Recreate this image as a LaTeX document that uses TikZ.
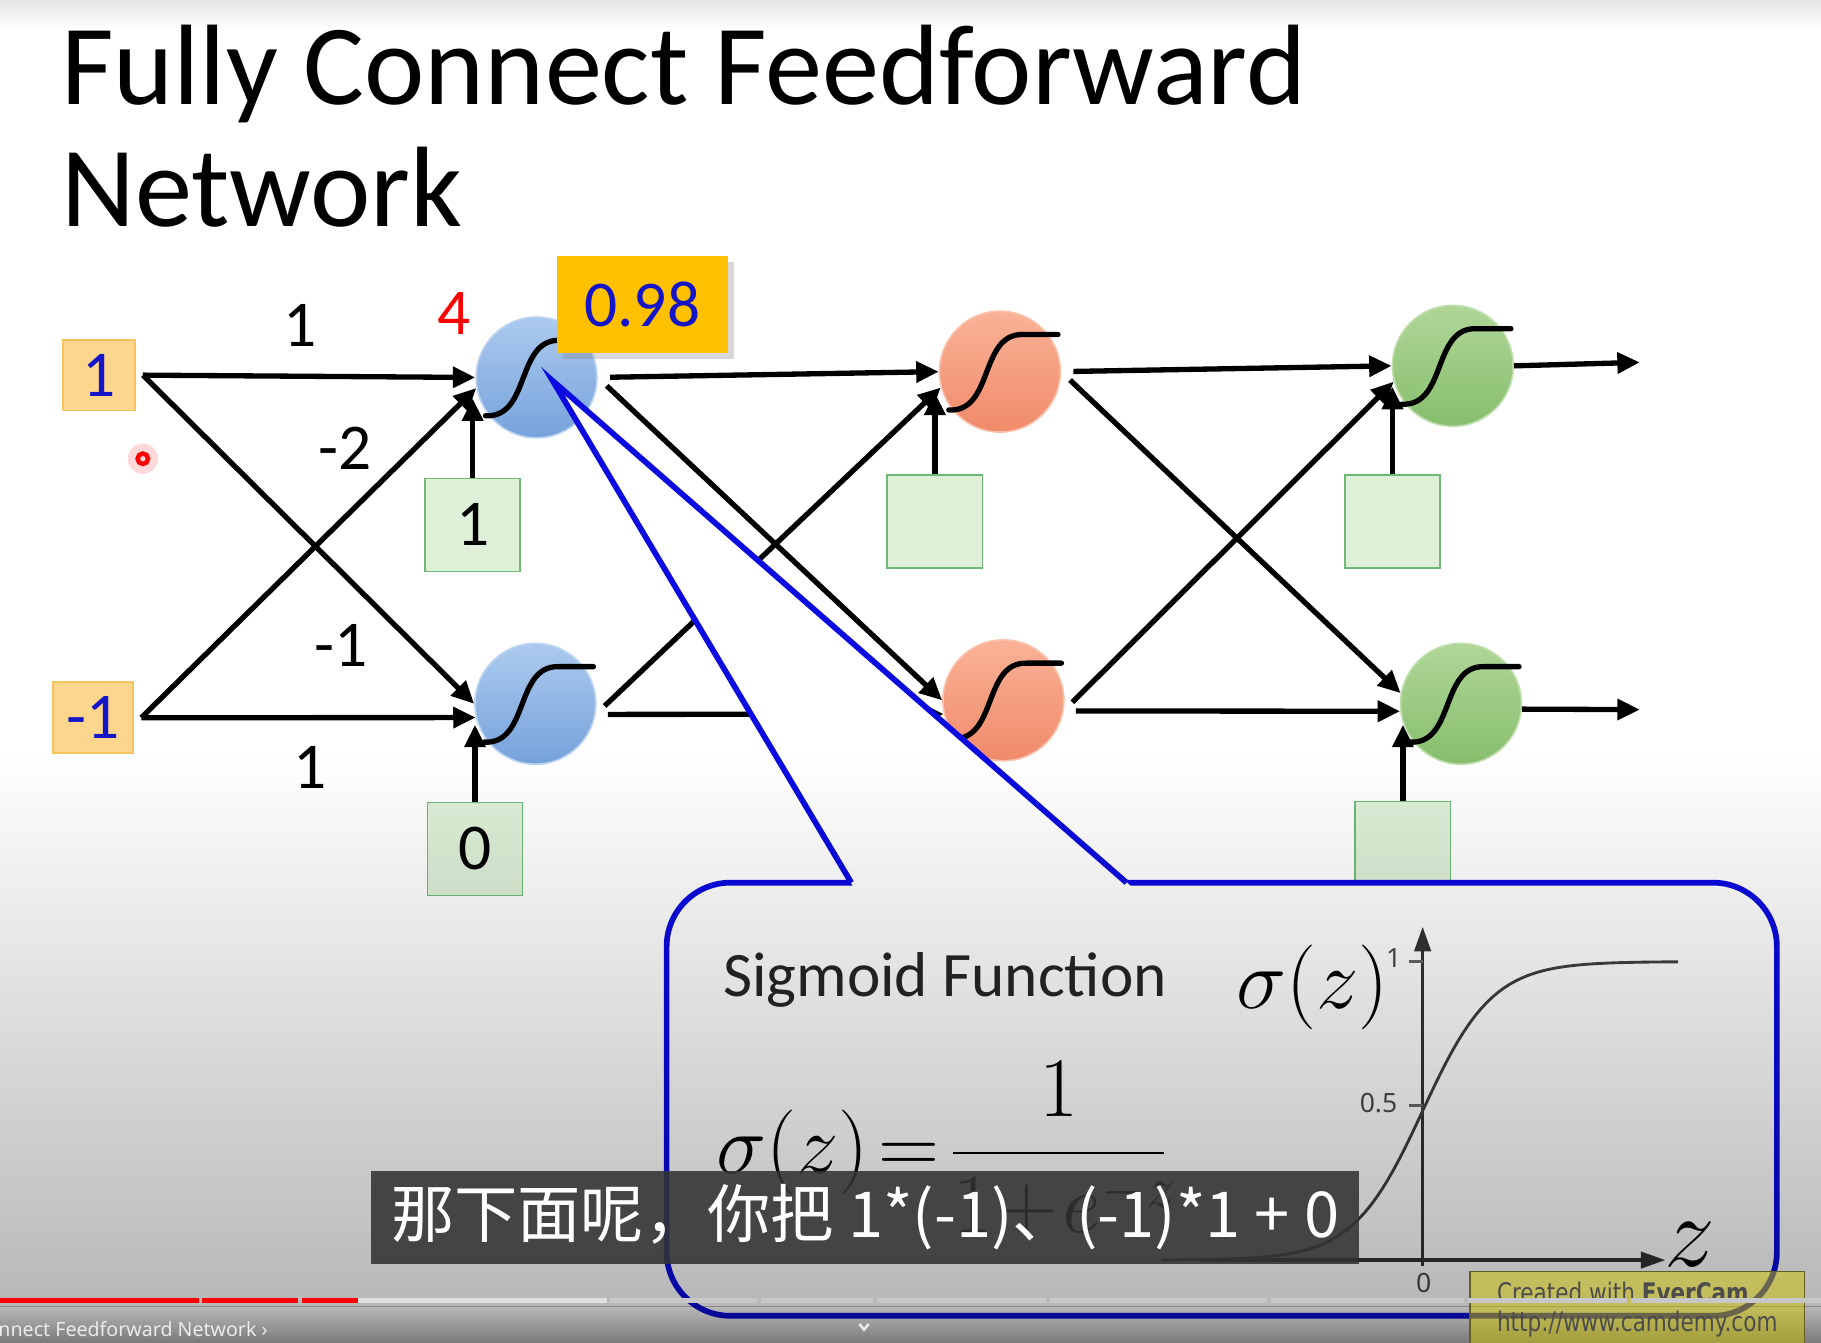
\documentclass[tikz,border=0pt]{standalone}
\usepackage{fontspec}
\setmainfont{Carlito}
\newfontfamily\cjkfont{Noto Sans CJK SC}
\newfontfamily\uifont{Noto Sans}
\newfontfamily\wmfont[FakeStretch=0.8]{DejaVu Sans}
\usetikzlibrary{positioning,arrows.meta,shadows}

\definecolor{inbox}{RGB}{252,214,140}
\definecolor{inedge}{RGB}{245,196,95}
\definecolor{numblue}{RGB}{20,20,200}
\definecolor{biasfill}{RGB}{222,240,216}
\definecolor{biasedge}{RGB}{110,185,120}
\definecolor{blueA}{RGB}{172,202,238}
\definecolor{blueB}{RGB}{118,162,220}
\definecolor{orangeA}{RGB}{250,178,150}
\definecolor{orangeB}{RGB}{240,138,106}
\definecolor{greenA}{RGB}{176,214,152}
\definecolor{greenB}{RGB}{134,190,108}
\definecolor{gold}{RGB}{255,192,0}
\definecolor{calloutblue}{RGB}{10,10,225}

\pgfdeclareverticalshading{slidefade}{100bp}{color(0bp)=(black!28); color(25bp)=(black!28); color(50bp)=(black!14); color(75bp)=(white); color(100bp)=(white)}

\tikzset{
    inbox/.style = {rectangle, draw=inedge, fill=inbox, minimum width=0.62cm, minimum height=0.61cm, text=numblue, font=\fontsize{16}{19}\selectfont, outer sep=2pt},
    neuron/.style = {circle, minimum size=1.04cm, inner sep=0pt, draw=#1A!80!white, top color=#1A, bottom color=#1B},
    biasbox/.style = {rectangle, draw=biasedge, fill=biasfill, minimum width=0.82cm, minimum height=0.8cm, font=\fontsize{16}{19}\selectfont},
    outbox/.style = {rectangle, fill=gold, minimum width=1.47cm, minimum height=0.83cm, text=numblue, font=\fontsize{16}{19}\selectfont, drop shadow={shadow xshift=1.5pt, shadow yshift=-1.5pt, opacity=0.3}},
    wlabel/.style = {font=\fontsize{16}{19}\selectfont},
    wire/.style = {-{Triangle[length=5.5pt,width=5pt]}, line width=1.3pt},
    callout/.style = {draw=calloutblue, line width=1.4pt},
    ticklabel/.style = {font=\uifont\fontsize{6.5}{8}\selectfont, text=black!70, inner sep=0pt},
    sig/.pic = {\draw[line width=1.3pt, line cap=round] (-44,33) .. controls (-5,35) and (-18,-33) .. (20,-32) -- (50,-32);}
}

\begin{document}
\begin{tikzpicture}[x=0.01cm, y=-0.01cm]
    \useasboundingbox (0,0) rectangle (1568,1156);
    \fill[white] (0,0) rectangle (1568,1156);

    % Title
    \node[anchor=base west, inner sep=0pt, font=\fontsize{28}{30}\selectfont] (title1) at (52,90) {Fully Connect Feedforward};
    \node[anchor=base west, inner sep=0pt, font=\fontsize{28}{30}\selectfont] (title2) at (52,195) {Network};

    % Nodes
    \node [inbox] (x1) at (85,323) {1};
    \node [inbox] (x2) at (80,618) {-1};
    \node [neuron=blue] (h1) at (462,325) {};
    \node [neuron=blue] (h2) at (461,606) {};
    \node [biasbox] (bh1) at (407,452) {1};
    \node [biasbox] (bh2) at (409,731) {0};
    \node [neuron=orange] (m1) at (861,320) {};
    \node [neuron=orange] (m2) at (864,603) {};
    \node [biasbox] (bm1) at (805,449) {};
    \node [neuron=green] (g1) at (1251,315) {};
    \node [neuron=green] (g2) at (1258,606) {};
    \node [biasbox] (bg1) at (1199,449) {};
    \node [biasbox] (bg2) at (1208,730) {};
    \coordinate (y1) at (1412,312);
    \coordinate (y2) at (1412,611);
    \foreach \n in {h1,h2,m1,m2,g1,g2}
        \pic at (\n) {sig};

    % Arrows
    \draw [wire] (x1.east) -- (h1.west);
    \draw [wire] (x1.east) -- (h2.west);
    \draw [wire] (x2.east) -- (h1.190);
    \draw [wire] (x2.east) -- (h2.193);
    \draw [wire] (bh1.north) -- (bh1.north |- h1.200);
    \draw [wire] (bh2.north) -- (bh2.north |- h2.200);
    \draw [wire, shorten <=3pt] (h1.east) -- (m1.west);
    \draw [wire, shorten <=3pt] (h1.east) -- (m2.west);
    \draw [wire, shorten <=3pt] (h2.-10) -- (m1.195);
    \draw [wire, shorten <=3pt] (h2.-10) -- (m2.193);
    \draw [wire] (bm1.north) -- (bm1.north |- m1.200);
    \draw [wire, shorten <=3pt] (m1.east) -- (g1.west);
    \draw [wire, shorten <=3pt] (m1.east) -- (g2.170);
    \draw [wire, shorten <=3pt] (m2.-10) -- (g1.195);
    \draw [wire, shorten <=3pt] (m2.-10) -- (g2.187);
    \draw [wire] (bg1.north) -- (bg1.north |- g1.200);
    \draw [wire] (bg2.north) -- (bg2.north |- g2.200);
    \draw [wire] (g1.east) -- (y1);
    \draw [wire] (g2.-5) -- (y2);

    % Weights and values
    \node [wlabel] (w11) at (258,280) {1};
    \node [wlabel] (w12) at (297,386) {-2};
    \node [wlabel] (w21) at (294,556) {-1};
    \node [wlabel] (w22) at (267,661) {1};
    \node [wlabel, text=red] (z1) at (391,270) {4};
    \node [outbox] (a1) at (553,262) {0.98};
    \fill[red, opacity=0.15] (123,395) circle (0.13cm);
    \draw[red, line width=1.1pt] (123,395) circle (0.045cm);

    % Callout
    \draw [callout, fill=white, rounded corners=0.55cm] (574,760) rectangle (1530,1133);
    \fill [white] (735,764) -- (476,328) -- (975,764) -- cycle;
    \draw [callout, line join=miter] (733,760) -- (476,328) -- (970,760);
    \node [anchor=base west, inner sep=0pt, text=black!85, font=\fontsize{15.5}{18}\selectfont] (sfname) at (622,858) {Sigmoid Function};
    \node [anchor=base west, inner sep=0pt] (sgz) at (1064,868) {\fontsize{20}{24}\selectfont$\sigma\bigl(z\bigr)$};
    \node [anchor=west, inner sep=0pt] (sgf) at (616,990) {\fontsize{20}{24}\selectfont$\displaystyle\sigma\bigl(z\bigr)\!=\!\frac{1}{1\!+\!e^{-z}\!}$};

    % Sigmoid graph
    \draw [black!80, line width=0.8pt, -{Triangle[length=6pt,width=4pt]}] (1225,1090) -- (1225,798);
    \draw [black!80, line width=0.8pt, -{Triangle[length=6pt,width=4pt]}] (1035,1085) -- (1434,1085);
    \draw [black!60, line width=0.6pt] (1213,828) -- (1225,828);
    \draw [black!60, line width=0.6pt] (1213,952) -- (1225,952);
    \draw [black!75, line width=0.7pt] plot[domain=1000:1445, samples=90] (\x, {1085-257/(1+exp(-(\x-1225)/30))});
    \node [ticklabel] (t1) at (1200,825) {1};
    \node [ticklabel] (t05) at (1187,950) {0.5};
    \node [ticklabel] (t0) at (1226,1105) {0};
    \node (zlab) at (1455,1072) {\fontsize{26}{30}\selectfont$z$};

    % Video fade
    \begin{scope}[blend mode=multiply]
        \shade [shading=slidefade] (0,650) rectangle (1568,1125);
        \shade [top color=black!28, bottom color=black!52] (0,1125) rectangle (1568,1156);
        \shade [top color=black!10, bottom color=white] (0,0) rectangle (1568,25);
    \end{scope}

    % Player overlay
    \node [fill=black!80, fill opacity=0.88, text opacity=1, text=white, minimum width=8.5cm, minimum height=0.73cm, font=\cjkfont\fontsize{15.5}{18}\selectfont] (sub) at (745,1048) {那下面呢，你把 1*(-1)、(-1)*1 + 0};
    \node [anchor=north west, draw=olive!60!black, fill=yellow!55!olive, fill opacity=0.5, text opacity=1, text=black!70, align=left, inner xsep=3pt, inner ysep=1.5pt, minimum width=2.88cm, minimum height=0.66cm, font=\wmfont\fontsize{6.6}{7.2}\selectfont] (wm) at (1265,1094) {Created with \textbf{EverCam}.\\http://www.camdemy.com};
    \fill [red] (0,1118) rectangle (171,1122);
    \fill [red] (174,1118) rectangle (257,1122);
    \fill [red] (260,1118) rectangle (308,1122);
    \fill [black!12] (308,1118) rectangle (523,1122);
    \foreach \a/\b in {525/652, 655/752, 755/901, 904/1091, 1094/1261, 1264/1401, 1404/1568}
        \fill [black!22] (\a,1118) rectangle (\b,1122);
    \node [anchor=base west, inner sep=0pt, text=black!8, font=\uifont\fontsize{4.8}{6}\selectfont] (vtitle) at (-2,1151) {nnect Feedforward Network ›};
    \draw [black!8, line width=0.6pt] (740,1140) -- (744,1145) -- (748,1140);
\end{tikzpicture}
\end{document}
